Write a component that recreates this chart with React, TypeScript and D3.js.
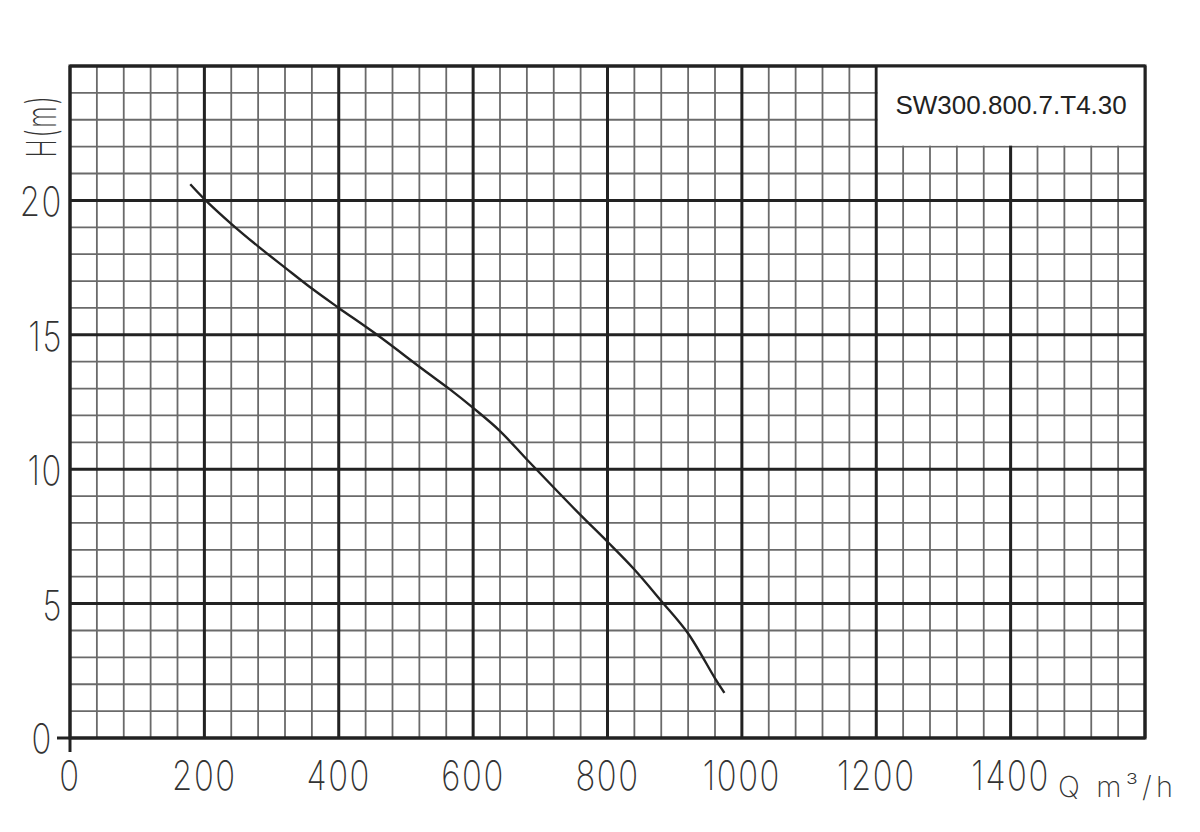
import React from "react";
import * as d3 from "d3";

// ---- data ----
const flowQ = [179, 200, 240, 280, 320, 360, 400, 457, 526, 566, 600, 640, 680, 720, 760, 800, 840, 880, 920, 960, 974];
const headH = [20.6, 20.05, 19.13, 18.29, 17.5, 16.72, 16.0, 15.0, 13.7, 12.96, 12.28, 11.42, 10.36, 9.32, 8.29, 7.3, 6.27, 5.1, 3.89, 2.22, 1.68];
const xTickLabels = [0, 200, 400, 600, 800, 1000, 1200, 1400];
const yTickLabels = [0, 5, 10, 15, 20];
const modelName = "SW300.800.7.T4.30";
const xUnit = "Q m³/h";
const yUnit = "H(m)";

const W = 1200;
const H = 832;

export default function App() {
  const x = d3.scaleLinear().domain([0, 1600]).range([70, 1145]);
  const y = d3.scaleLinear().domain([0, 25]).range([738, 66]);

  const xMinor = d3.range(0, 1600 + 1, 40);
  const yMinor = d3.range(0, 25 + 1, 1);
  const xMajor = d3.range(0, 1600 + 1, 200);
  const yMajor = d3.range(0, 25 + 1, 5);

  const pts: [number, number][] = flowQ.map((q, i) => [q, headH[i]]);
  const line = d3
    .line<[number, number]>()
    .x((d) => x(d[0]))
    .y((d) => y(d[1]))
    .curve(d3.curveCatmullRom.alpha(0.5));

  const digitFont = "Inter, Roboto, sans-serif";
  const sx = 0.8;

  return (
    <svg
      width={W}
      height={H}
      style={{ position: "fixed", left: 0, top: 0, background: "#fff" }}
    >
      <rect x={0} y={0} width={W} height={H} fill="#fff" />
      {/* minor grid */}
      <g stroke="#6a6a6a" strokeWidth={1.8}>
        {xMinor.map((q) => (
          <line key={"xm" + q} x1={x(q)} x2={x(q)} y1={y(0)} y2={y(25)} />
        ))}
        {yMinor.map((h) => (
          <line key={"ym" + h} x1={x(0)} x2={x(1600)} y1={y(h)} y2={y(h)} />
        ))}
      </g>
      {/* major grid */}
      <g stroke="#222" strokeWidth={3}>
        {xMajor.map((q) => (
          <line key={"xM" + q} x1={x(q)} x2={x(q)} y1={y(0)} y2={y(25)} />
        ))}
        {yMajor.map((h) => (
          <line key={"yM" + h} x1={x(0)} x2={x(1600)} y1={y(h)} y2={y(h)} />
        ))}
      </g>
      {/* model box */}
      <rect
        x={x(1200) + 1.5}
        y={y(25)}
        width={x(1600) - x(1200) - 1.5}
        height={y(22) - y(25) - 1}
        fill="#fff"
      />
      <text
        x={(x(1200) + x(1600)) / 2 + 0.5}
        y={y(23.2)}
        textAnchor="middle"
        fontFamily="'Liberation Sans', Arial, sans-serif"
        fontSize={26}
        fill="#222"
      >
        {modelName}
      </text>
      {/* border */}
      <rect
        x={x(0)}
        y={y(25)}
        width={x(1600) - x(0)}
        height={y(0) - y(25)}
        fill="none"
        stroke="#222"
        strokeWidth={3}
      />
      {/* axis extensions */}
      <line x1={x(0) - 13} x2={x(0)} y1={y(0)} y2={y(0)} stroke="#222" strokeWidth={3} />
      <line x1={x(0)} x2={x(0)} y1={y(0)} y2={y(0) + 14} stroke="#222" strokeWidth={3} />
      {/* curve */}
      <path d={line(pts) || ""} fill="none" stroke="#222" strokeWidth={2.4} />
      {/* x labels */}
      {xTickLabels.map((q) => (
        <text
          key={"xl" + q}
          transform={`translate(${x(q)},790) scale(${sx},1)`}
          textAnchor="middle"
          fontFamily={digitFont}
          fontWeight={200}
          fontSize={41}
          letterSpacing={2}
          fill="#333"
        >
          {q}
        </text>
      ))}
      {/* y labels */}
      {yTickLabels.map((h) => (
        <text
          key={"yl" + h}
          transform={
            h === 0
              ? `translate(53,${y(h) + 15}) scale(${sx},1)`
              : `translate(63,${y(h) + 16}) scale(${sx},1)`
          }
          textAnchor="end"
          fontFamily={digitFont}
          fontWeight={200}
          fontSize={41}
          letterSpacing={2}
          fill="#333"
        >
          {h}
        </text>
      ))}
      {/* axis titles */}
      <text
        transform={`translate(56,126) rotate(-90) scale(0.6,1)`}
        textAnchor="middle"
        fontFamily={digitFont}
        fontWeight={200}
        fontSize={41}
        letterSpacing={3}
        fill="#333"
      >
        {yUnit}
      </text>
      <text
        x={1058}
        y={797}
        textLength={115}
        lengthAdjust="spacing"
        fontFamily={digitFont}
        fontWeight={200}
        fontSize={29}
        fill="#333"
      >
        {xUnit}
      </text>
    </svg>
  );
}
